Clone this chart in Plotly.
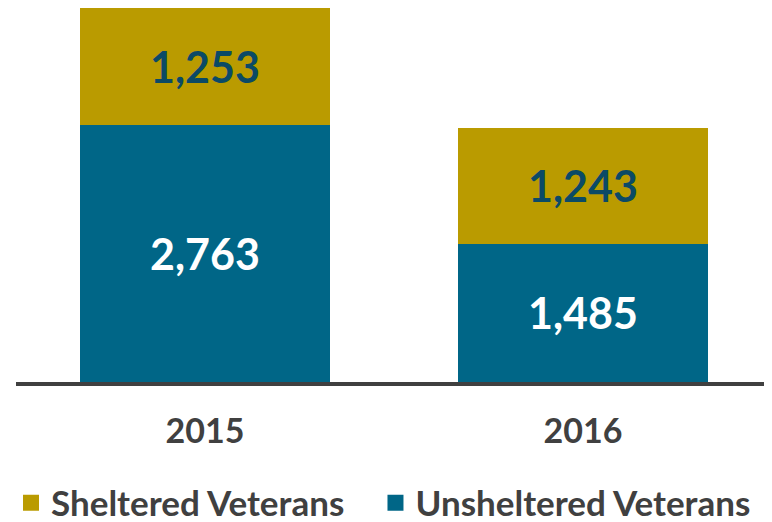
import plotly.graph_objects as go

years = ['2015', '2016']
unsheltered = [2763, 1485]
sheltered = [1253, 1243]

GOLD = '#BA9B00'
TEAL = '#006687'
DARK = '#0B4A66'
GRAY = '#404040'
FONT = 'Lato'

fig = go.Figure()

fig.add_trace(go.Bar(
    name='Unsheltered Veterans',
    x=years,
    y=unsheltered,
    text=['{:,}'.format(v) for v in unsheltered],
    textposition='inside',
    insidetextanchor='middle',
    textangle=0,
    constraintext='none',
    textfont=dict(family=FONT, size=43, color='white', weight='bold'),
    marker=dict(color=TEAL, line=dict(width=0)),
    showlegend=False))

fig.add_trace(go.Bar(
    name='Sheltered Veterans',
    x=years,
    y=sheltered,
    text=['{:,}'.format(v) for v in sheltered],
    textposition='inside',
    insidetextanchor='middle',
    textangle=0,
    constraintext='none',
    textfont=dict(family=FONT, size=43, color=DARK, weight='bold'),
    marker=dict(color=GOLD, line=dict(width=0)),
    showlegend=False))

# legend entries with larger square swatches, one legend each so they can be placed
for name, color, leg in [('Sheltered Veterans', GOLD, 'legend'),
                         ('Unsheltered Veterans', TEAL, 'legend2')]:
    fig.add_trace(go.Scatter(
        name=name,
        x=[None],
        y=[None],
        mode='markers',
        legend=leg,
        marker=dict(symbol='square', size=16, color=color)))

legend_style = dict(
    orientation='h',
    xanchor='left',
    y=-0.3235, yanchor='middle',
    font=dict(family=FONT, size=35, color=GRAY, weight='bold'),
    itemsizing='trace')

# page body has an 8px margin, so the figure is sized to the visible area
fig.update_layout(
    barmode='stack',
    bargap=0.339,
    width=764,
    height=514,
    margin=dict(l=8, r=0, t=0, b=140, autoexpand=False),
    paper_bgcolor='white',
    plot_bgcolor='white',
    font=dict(family=FONT, color=GRAY),
    showlegend=True,
    legend=dict(x=-0.0066, **legend_style),
    legend2=dict(x=0.4755, **legend_style),
    xaxis=dict(
        showline=True,
        linecolor=GRAY,
        linewidth=4,
        showgrid=False,
        ticks='',
        ticklabelstandoff=16,
        tickfont=dict(family=FONT, size=34, color=GRAY, weight='bold')),
    yaxis=dict(
        range=[0, 4016],
        visible=False,
        showgrid=False,
        zeroline=False))

fig.write_html('out.html')
